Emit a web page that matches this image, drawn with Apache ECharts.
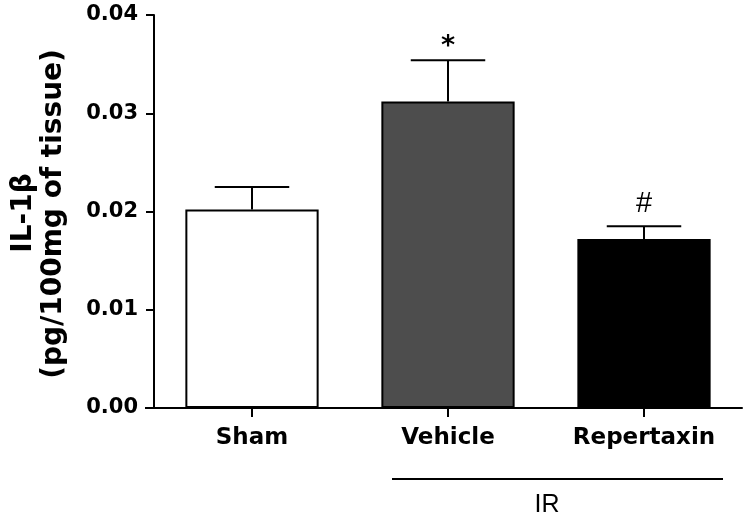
<!DOCTYPE html>
<html>
<head>
<meta charset="utf-8">
<script src="https://cdn.jsdelivr.net/npm/echarts@6/dist/echarts.min.js"></script>
<style>html,body{margin:0;padding:0;background:#fff;}#c{width:746px;height:518px;}</style>
</head>
<body>
<div id="c"></div>
<script>
const categories = ['Sham', 'Vehicle', 'Repertaxin'];
const means = [0.0202, 0.0312, 0.0172];
const sems = [0.0023, 0.0042, 0.0013];
const marks = ['', '*', '#'];
const barColors = ['#ffffff', '#4d4d4d', '#000000'];
const yTickValues = [0, 0.01, 0.02, 0.03, 0.04];

const FONT = 'DejaVu Sans';
const chart = echarts.init(document.getElementById('c'), null, {renderer: 'canvas'});

const markStyles = {
  '*': {fontFamily: FONT, fontWeight: 'bold', fontSize: 27, dy: -13},
  '#': {fontFamily: 'Liberation Sans', fontWeight: 'normal', fontSize: 29, dy: -22}
};

const option = {
  backgroundColor: '#ffffff',
  animation: false,
  grid: {left: 154, right: 4, top: 15, bottom: 110, containLabel: false},
  xAxis: {
    type: 'category',
    data: categories,
    axisLine: {lineStyle: {color: '#000', width: 2}},
    axisTick: {show: true, alignWithLabel: true, length: 9, lineStyle: {color: '#000', width: 2}},
    axisLabel: {color: '#000', fontFamily: FONT, fontWeight: 'bold', fontSize: 23, margin: 19}
  },
  yAxis: {
    type: 'value',
    min: yTickValues[0],
    max: yTickValues[yTickValues.length - 1],
    interval: 0.01,
    splitLine: {show: false},
    axisLine: {show: true, lineStyle: {color: '#000', width: 2}},
    axisTick: {show: true, length: 8, lineStyle: {color: '#000', width: 2}},
    axisLabel: {color: '#000', fontFamily: FONT, fontWeight: 'bold', fontSize: 21, margin: 16,
      formatter: v => v.toFixed(2)}
  },
  graphic: [
    {type: 'line', shape: {x1: 145, y1: 408, x2: 155, y2: 408}, style: {stroke: '#000', lineWidth: 2}},
    {type: 'text', x: 24, y: 213, rotation: Math.PI / 2,
      style: {text: 'IL-1β', fontFamily: FONT, fontWeight: 'bold', fontSize: 28, fill: '#000', textAlign: 'center', textVerticalAlign: 'middle'}},
    {type: 'text', x: 54, y: 214, rotation: Math.PI / 2,
      style: {text: '(pg/100mg of tissue)', fontFamily: FONT, fontWeight: 'bold', fontSize: 28, fill: '#000', textAlign: 'center', textVerticalAlign: 'middle'}},
    {type: 'line', shape: {x1: 392, y1: 479, x2: 723, y2: 479}, style: {stroke: '#000', lineWidth: 2}},
    {type: 'text', x: 547, y: 505,
      style: {text: 'IR', fontFamily: 'Liberation Sans', fontSize: 25, fill: '#000', textAlign: 'center', textVerticalAlign: 'middle'}}
  ],
  series: [
    {
      type: 'bar',
      barWidth: '68%',
      data: means.map((m, i) => ({value: m, itemStyle: {color: barColors[i], borderColor: '#000', borderWidth: 2}})),
      z: 2
    },
    {
      type: 'custom',
      z: 3,
      data: means.map((m, i) => [i, m, sems[i]]),
      renderItem: function (params, api) {
        const idx = api.value(0);
        const m = api.value(1);
        const s = api.value(2);
        const base = api.coord([idx, m]);
        const top = api.coord([idx, m + s]);
        const band = api.size([1, 0])[0];
        const half = band * 0.19;
        const children = [
          {type: 'line', shape: {x1: top[0], y1: base[1], x2: top[0], y2: top[1]}, style: {stroke: '#000', lineWidth: 2}},
          {type: 'line', shape: {x1: top[0] - half, y1: top[1], x2: top[0] + half, y2: top[1]}, style: {stroke: '#000', lineWidth: 2}}
        ];
        const mk = marks[params.dataIndex];
        if (mk) {
          const st = markStyles[mk];
          children.push({type: 'text', x: top[0], y: top[1] + st.dy,
            style: {text: mk, fontFamily: st.fontFamily, fontWeight: st.fontWeight, fontSize: st.fontSize, fill: '#000', textAlign: 'center', textVerticalAlign: 'middle'}});
        }
        return {type: 'group', children: children};
      }
    }
  ]
};
chart.setOption(option);
</script>
</body>
</html>
